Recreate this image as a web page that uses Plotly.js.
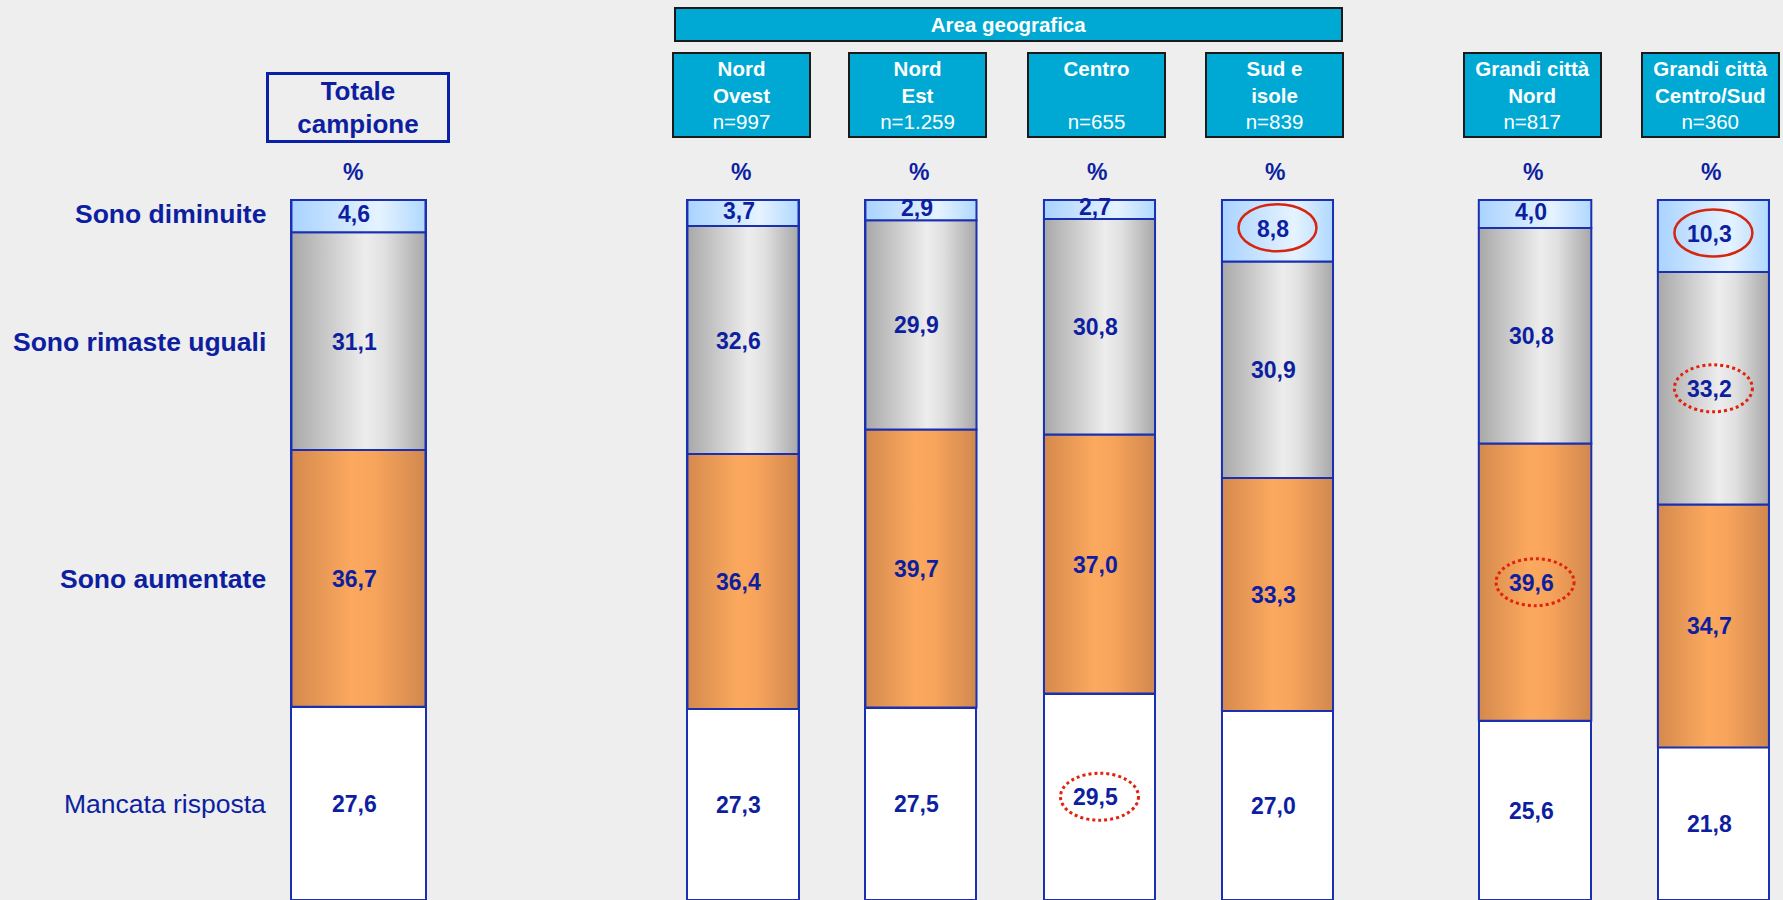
<!DOCTYPE html>
<html>
<head>
<meta charset="utf-8">
<script src="https://cdn.plot.ly/plotly-3.0.1.min.js"></script>
<style>
html,body{margin:0;padding:0;background:#EEEEEE;overflow:hidden}
#chart{width:1783px;height:900px}
</style>
</head>
<body>
<div id="chart"></div>
<script>
// ---------------- DATA ----------------
const columns = ['Totale campione','Nord Ovest','Nord Est','Centro','Sud e isole','Grandi città Nord','Grandi città Centro/Sud'];
const headerTitles = ['Totale<br>campione','Nord<br>Ovest','Nord<br>Est','Centro<br>&nbsp;','Sud e<br>isole','Grandi città<br>Nord','Grandi città<br>Centro/Sud'];
const sampleSizes = ['', 'n=997', 'n=1.259', 'n=655', 'n=839', 'n=817', 'n=360'];
const groupTitle = 'Area geografica';
const unitLabel = '%';

const seriesNames = ['Mancata risposta','Sono aumentate','Sono rimaste uguali','Sono diminuite'];
const mancataRisposta   = [27.6, 27.3, 27.5, 29.5, 27.0, 25.6, 21.8];
const sonoAumentate     = [36.7, 36.4, 39.7, 37.0, 33.3, 39.6, 34.7];
const sonoRimasteUguali = [31.1, 32.6, 29.9, 30.8, 30.9, 30.8, 33.2];
const sonoDiminuite     = [ 4.6,  3.7,  2.9,  2.7,  8.8,  4.0, 10.3];

// highlighted cells: [column index, series index, style]
const highlights = [
  [4, 3, 'solid'],
  [6, 3, 'solid'],
  [6, 2, 'dot'],
  [5, 1, 'dot'],
  [3, 0, 'dot']
];

// ---------------- LAYOUT CONSTANTS ----------------
const W = 1783, H = 900;
const TOP = 198;                       // top margin (px)
const Y_RANGE = [0, 100.286];
const X_RANGE = [-2.014, 8.003];
const colPos   = [0, 2.160, 3.160, 4.163, 5.163, 6.610, 7.612];
const colWidth = [0.753, 0.624, 0.624, 0.624, 0.624, 0.632, 0.624];
const headerShift = [0, -1, -3, -3, -3, -3, -3];
const pctShift = [-5, -2, -2, -2, -2, -2, -2];
const labelYShift = [-0.5, -0.5, -0.5, 2];

const BLUE_TXT = '#0D1FA0';
const BORDER = '#1A30B0';
const FONT = '"Liberation Sans", Arial, sans-serif';

const seriesValues = [mancataRisposta, sonoAumentate, sonoRimasteUguali, sonoDiminuite];
const solidColors = ['#FFFFFF', '#E99A56', '#CCCCCC', '#CDE6FF'];
const gradients = [
  null,
  [[0,'#D4894C'],[0.45,'#FCA95F'],[0.62,'#F8A45C'],[1,'#D1884E']],
  [[0,'#A8A8A8'],[0.55,'#EDEDED'],[0.7,'#E0E0E0'],[1,'#A8A8A8']],
  [[0,'#A9D3FF'],[0.65,'#E6F3FF'],[1,'#B0D8FF']]
];

const plotH = H - TOP;
function pyToPaper(py){ return (H - py) / plotH; }
function fmt(v){ return v.toFixed(1).replace('.', ','); }

// cumulative bases
const bases = seriesValues.map((arr, s) =>
  arr.map((_, i) => { let b = 0; for (let k = 0; k < s; k++) b += seriesValues[k][i]; return b; }));
const centers = seriesValues.map((arr, s) => arr.map((v, i) => bases[s][i] + v / 2));

const traces = [];

// stacked bars
seriesValues.forEach((arr, s) => {
  traces.push({
    type: 'bar', name: seriesNames[s], x: colPos, y: arr, width: colWidth,
    marker: {color: solidColors[s], line: {color: BORDER, width: 2}},
    hoverinfo: 'skip', showlegend: false
  });
});

// gradient overlays for each coloured segment
seriesValues.forEach((arr, s) => {
  if (!gradients[s]) return;
  arr.forEach((v, i) => {
    const xl = colPos[i] - colWidth[i] / 2, xr = colPos[i] + colWidth[i] / 2;
    const y0 = bases[s][i], y1 = bases[s][i] + v;
    traces.push({
      type: 'scatter', mode: 'lines',
      x: [xl, xr, xr, xl, xl], y: [y0, y0, y1, y1, y0],
      fill: 'toself', fillcolor: solidColors[s],
      fillgradient: {type: 'horizontal', colorscale: gradients[s]},
      line: {color: BORDER, width: 2},
      hoverinfo: 'skip', showlegend: false
    });
  });
});

const annotations = [];

// value labels
seriesValues.forEach((arr, s) => {
  arr.forEach((v, i) => {
    annotations.push({
      xref: 'x', yref: 'y', x: colPos[i], y: centers[s][i],
      xshift: -4, yshift: labelYShift[s],
      xanchor: 'center', yanchor: 'middle', showarrow: false,
      text: '<b>' + fmt(v) + '</b>',
      font: {family: FONT, size: 23, color: BLUE_TXT}
    });
  });
});

// row labels aligned with the Totale column segments
seriesNames.forEach((name, s) => {
  annotations.push({
    xref: 'paper', yref: 'y', x: 266 / W, y: centers[s][0],
    xshift: 2, yshift: s === 3 ? 2 : -0.5,
    xanchor: 'right', yanchor: 'middle', showarrow: false,
    text: s === 0 ? name : '<b>' + name + '</b>',
    font: {family: FONT, size: 26.5, color: BLUE_TXT}
  });
});

// % labels
colPos.forEach((x, i) => {
  annotations.push({
    xref: 'x', yref: 'paper', x: x, xshift: pctShift[i], y: pyToPaper(172),
    xanchor: 'center', yanchor: 'middle', showarrow: false,
    text: '<b>' + unitLabel + '</b>',
    font: {family: FONT, size: 23, color: BLUE_TXT}
  });
});

// Totale header box
annotations.push({
  xref: 'x', yref: 'paper', x: colPos[0], y: pyToPaper(107.5),
  xanchor: 'center', yanchor: 'middle', showarrow: false,
  text: '<b>' + headerTitles[0].replace('<br>', '</b><br><b>') + '</b>',
  font: {family: FONT, size: 26, color: BLUE_TXT},
  bordercolor: '#0A20A8', borderwidth: 3, borderpad: 2,
  bgcolor: 'rgba(0,0,0,0)', width: 174, height: 61
});

// column header boxes
for (let i = 1; i < columns.length; i++) {
  annotations.push({
    xref: 'x', yref: 'paper', x: colPos[i], xshift: headerShift[i], y: pyToPaper(95),
    xanchor: 'center', yanchor: 'middle', showarrow: false,
    text: '<b>' + headerTitles[i].replace('<br>', '</b><br><b>') + '</b><br>' + sampleSizes[i],
    font: {family: FONT, size: 20.5, color: '#FFFFFF'},
    bgcolor: '#00A9D4', bordercolor: '#1A1A1A', borderwidth: 2, borderpad: 1,
    width: 133, height: 80
  });
}

// group header
annotations.push({
  xref: 'x', yref: 'paper', x: (colPos[1] + colPos[4]) / 2, xshift: -2, y: pyToPaper(24.5),
  xanchor: 'center', yanchor: 'middle', showarrow: false,
  text: '<b>' + groupTitle + '</b>',
  font: {family: FONT, size: 20.5, color: '#FFFFFF'},
  bgcolor: '#00A9D4', bordercolor: '#1A1A1A', borderwidth: 2, borderpad: 1,
  width: 663, height: 29
});

// highlight ellipses
const shapes = highlights.map(([ci, si, style]) => {
  const dy = style === 'solid' ? 3 : 0;
  return {
    type: 'circle', layer: 'above',
    xref: 'x', yref: 'y',
    xsizemode: 'pixel', ysizemode: 'pixel',
    xanchor: colPos[ci], yanchor: centers[si][ci],
    x0: -39, x1: 39, y0: -23.5 + dy, y1: 23.5 + dy,
    line: style === 'solid'
      ? {color: '#D5260F', width: 2.5}
      : {color: '#E3220C', width: 3, dash: 'dot'},
    fillcolor: 'rgba(0,0,0,0)'
  };
});

const layout = {
  width: W, height: H,
  margin: {l: 0, r: 0, t: TOP, b: 0, pad: 0, autoexpand: false},
  paper_bgcolor: '#EEEEEE', plot_bgcolor: '#EEEEEE',
  barmode: 'stack', bargap: 0,
  showlegend: false,
  xaxis: {range: X_RANGE, visible: false, fixedrange: true},
  yaxis: {range: Y_RANGE, visible: false, fixedrange: true},
  annotations: annotations,
  shapes: shapes,
  font: {family: FONT}
};

Plotly.newPlot('chart', traces, layout, {displayModeBar: false, staticPlot: true});
</script>
</body>
</html>
